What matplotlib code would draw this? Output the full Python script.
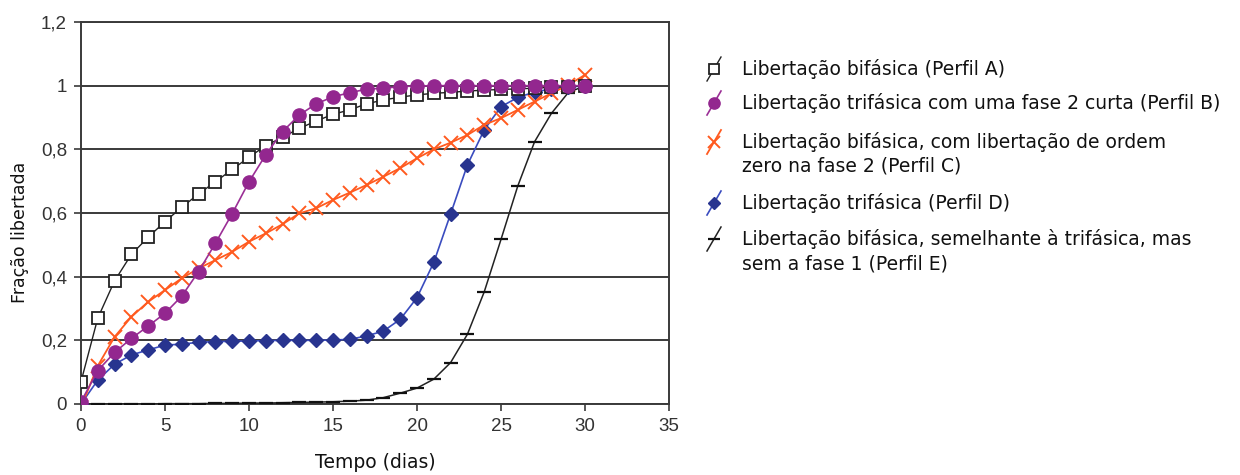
import matplotlib.pyplot as plt
from matplotlib.lines import Line2D

# dados (fração libertada por dia)
dias = list(range(31))
perfil_a = [0.07, 0.27, 0.387, 0.47, 0.524, 0.573, 0.618, 0.66, 0.698, 0.737, 0.775,
            0.812, 0.838, 0.866, 0.889, 0.91, 0.924, 0.943, 0.955, 0.964, 0.971,
            0.976, 0.979, 0.983, 0.986, 0.988, 0.99, 0.992, 0.995, 0.997, 1.0]
perfil_b = [0.007, 0.105, 0.162, 0.206, 0.245, 0.285, 0.339, 0.416, 0.505, 0.598, 0.698,
            0.783, 0.856, 0.908, 0.943, 0.965, 0.978, 0.989, 0.992, 0.997, 0.999,
            1.0, 1.0, 1.0, 1.0, 1.0, 1.0, 1.0, 1.0, 1.0, 1.0]
perfil_c = [-0.01, 0.12, 0.211, 0.274, 0.321, 0.358, 0.395, 0.426, 0.452, 0.478, 0.51,
            0.536, 0.565, 0.599, 0.615, 0.641, 0.664, 0.688, 0.714, 0.741, 0.772,
            0.80, 0.821, 0.845, 0.877, 0.898, 0.924, 0.95, 0.976, 1.002, 1.034]
perfil_d = [0.0, 0.075, 0.125, 0.154, 0.17, 0.185, 0.188, 0.194, 0.196, 0.197, 0.198,
            0.199, 0.2, 0.2, 0.2, 0.201, 0.203, 0.214, 0.229, 0.266, 0.334,
            0.445, 0.597, 0.751, 0.861, 0.934, 0.963, 0.98, 0.99, 0.995, 1.0]
perfil_e = [0.0, 0.0, 0.0, 0.0, 0.0, 0.001, 0.001, 0.001, 0.002, 0.002, 0.003,
            0.003, 0.004, 0.005, 0.006, 0.007, 0.009, 0.012, 0.02, 0.034, 0.05,
            0.078, 0.13, 0.219, 0.352, 0.517, 0.685, 0.824, 0.913, 0.978, 1.0]

legendas = [["Libertação bifásica (Perfil A)"],
            ["Libertação trifásica com uma fase 2 curta (Perfil B)"],
            ["Libertação bifásica, com libertação de ordem", "zero na fase 2 (Perfil C)"],
            ["Libertação trifásica (Perfil D)"],
            ["Libertação bifásica, semelhante à trifásica, mas", "sem a fase 1 (Perfil E)"]]

x_ticks = [0, 5, 10, 15, 20, 25, 30, 35]
y_ticks = [0, 0.2, 0.4, 0.6, 0.8, 1.0, 1.2]
y_ticklabels = ["0", "0,2", "0,4", "0,6", "0,8", "1", "1,2"]

# estilos de cada perfil
estilos = {
    "A": dict(color="#222222", marker="s", ms=8, mfc="white", mec="#222222", mew=1.3, lw=1.0),
    "B": dict(color="#9b2f96", marker="o", ms=9.5, mfc="#93278f", mec="#93278f", mew=1, lw=1.2),
    "C": dict(color="#ff5a1f", marker="x", ms=9.5, mfc="#ff5a1f", mec="#ff5a1f", mew=1.4, lw=1.3),
    "D": dict(color="#3a4cbf", marker="D", ms=7.5, mfc="#28348f", mec="#28348f", mew=1, lw=1.2),
    "E": dict(color="#222222", marker="_", ms=10, mfc="#111111", mec="#111111", mew=1.6, lw=1.1),
}

fig = plt.figure(figsize=(12.4, 4.75), dpi=100)
ax = fig.add_axes([81 / 1240, 1 - 404 / 475, 588 / 1240, 382 / 475])

ax.plot(dias, perfil_e, zorder=3, **estilos["E"])
ax.plot(dias, perfil_d, zorder=4, **estilos["D"])
ax.plot(dias, perfil_c, zorder=5, **estilos["C"])
ax.plot(dias, perfil_a, zorder=6, **estilos["A"])
ax.plot(dias, perfil_b, zorder=7, **estilos["B"])

ax.set_xlim(0, 35)
ax.set_ylim(0, 1.2)
ax.set_xticks(x_ticks)
ax.set_yticks(y_ticks)
ax.set_yticklabels(y_ticklabels)
ax.yaxis.grid(True, color="#3a3a3a", lw=1.4)
ax.set_axisbelow(True)
for s in ax.spines.values():
    s.set_color("#3a3a3a")
    s.set_linewidth(1.4)
ax.tick_params(colors="#3a3a3a", width=1.2, length=5, labelsize=13.5, pad=5)
for lab in ax.get_xticklabels() + ax.get_yticklabels():
    lab.set_fontfamily("Liberation Sans")
    lab.set_color("#333333")
ax.set_xlabel("Tempo (dias)", fontsize=13.5, labelpad=13, color="#111111")
ax.set_ylabel("Fração libertada", fontsize=12.5, color="#111111")
ax.yaxis.set_label_coords(-0.088, 0.45)

# legenda desenhada à mão (marcador + traço inclinado + texto)
px = lambda x, y: (x / 1240, 1 - y / 475)
entradas = ["A", "B", "C", "D", "E"]
y_linhas = [69, 103, 142, 203, 239]
for chave, linhas, yl in zip(entradas, legendas, y_linhas):
    st = estilos[chave]
    x0, y0 = px(707, yl + 12)
    x1, y1 = px(721, yl - 12)
    fig.add_artist(Line2D([x0, x1], [y0, y1], transform=fig.transFigure,
                          color=st["color"], lw=st["lw"]))
    xm, ym = px(714, yl)
    fig.add_artist(Line2D([xm], [ym], transform=fig.transFigure, ls="none",
                          marker=st["marker"], ms=st["ms"] * 0.85, mfc=st["mfc"],
                          mec=st["mec"], mew=st["mew"]))
    for i, texto in enumerate(linhas):
        xt, yt = px(742, yl + 6 + 24 * i)
        fig.text(xt, yt, texto, fontsize=13.5, va="baseline", ha="left", color="#111111")

fig.savefig("out.png", dpi=100)
